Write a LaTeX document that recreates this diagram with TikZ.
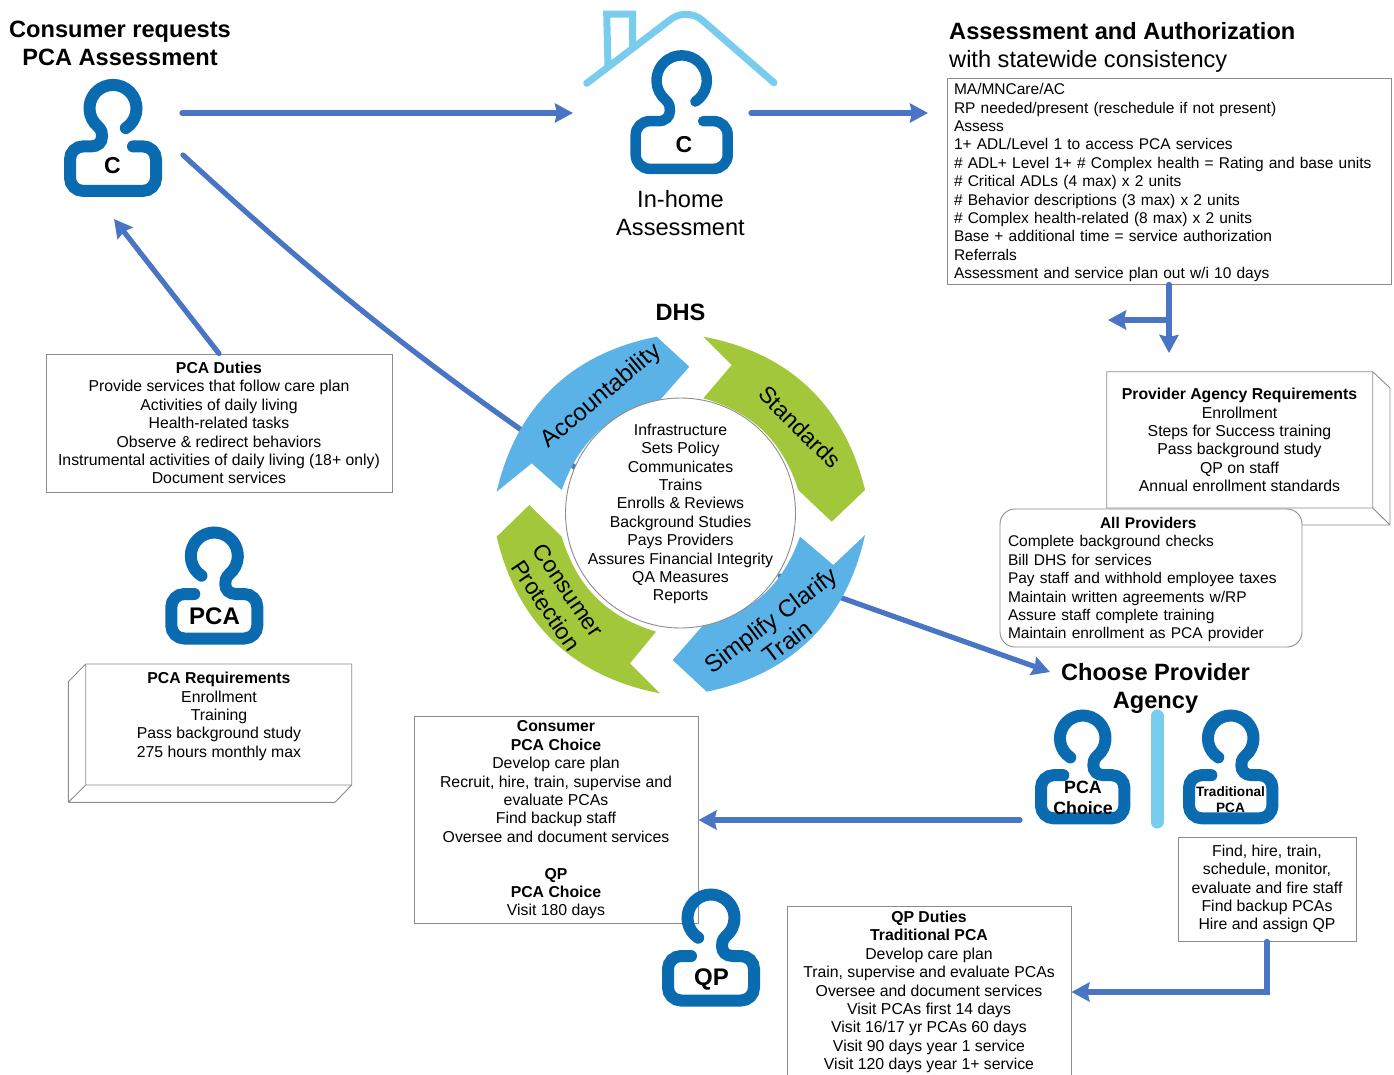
\documentclass[tikz,border=0pt]{standalone}
\usepackage{fontspec}
\setmainfont{Liberation Sans}
\usetikzlibrary{arrows.meta}
\definecolor{flowblue}{HTML}{4A74C4}
\definecolor{iconblue}{HTML}{0B6BB0}
\definecolor{roofblue}{HTML}{78CDEE}
\definecolor{ringblue}{HTML}{5AB2E6}
\definecolor{ringgreen}{HTML}{A2C73A}
\definecolor{boxgray}{HTML}{8C8C8C}
\tikzset{
  txt/.style={font=\fontsize{15.8}{18.4}\selectfont,align=center,inner sep=0,execute at begin node=\rule{0pt}{14.5pt}},
  listtxt/.style={font=\fontsize{15.5}{18.4}\selectfont,align=left},
  titletxt/.style={font=\fontsize{23.6}{28}\selectfont,align=center,inner sep=0},
  ringtxt/.style={font=\fontsize{23}{27}\selectfont,align=center,inner sep=0},
  boxed/.style={txt,draw=boxgray,line width=0.9pt,fill=white},
  wall/.style={draw=boxgray,line width=0.9pt,line join=round},
  flow/.style={draw=flowblue,line width=5.2pt,line cap=round,-{Stealth[length=18pt,width=19pt,inset=2pt]}},
  plainflow/.style={draw=flowblue,line width=5.2pt,line cap=round},
  iconline/.style={draw=iconblue,line width=12pt,line cap=round},
  roofline/.style={draw=roofblue,line width=7pt,line cap=round},
  pics/person/.style={code={
    \draw[iconline,yscale=-1] (57:23.5) arc[start angle=57,end angle=-230,radius=23.5]
      .. controls (-11,22) and (-11,25) .. (-11,28) .. controls (-11,34) and (-15,38) .. (-22,38)
      -- (-30,38) arc[start angle=-90,end angle=-180,radius=13]
      -- (-43,69.5) arc[start angle=180,end angle=90,radius=13]
      -- (30,82.5) arc[start angle=90,end angle=0,radius=13]
      -- (43,51) arc[start angle=0,end angle=-90,radius=13] -- (20,38);
  }}
}
\begin{document}
\begin{tikzpicture}[x=1pt,y=1pt,yscale=-1]
        \useasboundingbox (0,0) rectangle (1394,1074);
        % boxes
        \node[boxed,listtxt,minimum width=444pt,minimum height=206pt,text width=430pt] (assess) at (1169,181) {MA/MNCare/AC\\RP needed/present (reschedule if not present)\\Assess\\1+ ADL/Level 1 to access PCA services\\\# ADL+ Level 1+ \# Complex health = Rating and base units\\\# Critical ADLs (4 max) x 2 units\\\# Behavior descriptions (3 max) x 2 units\\\# Complex health-related (8 max) x 2 units\\Base + additional time = service authorization\\Referrals\\Assessment and service plan out w/i 10 days};
        \node[boxed,minimum width=346pt,minimum height=138pt] (duties) at (219,423) {\textbf{PCA Duties}\\Provide services that follow care plan\\Activities of daily living\\Health-related tasks\\Observe \& redirect behaviors\\Instrumental activities of daily living (18+ only)\\Document services};
        \node[boxed,minimum width=284pt,minimum height=207pt] (choice) at (556,820) {\textbf{Consumer}\\\textbf{PCA Choice}\\Develop care plan\\Recruit, hire, train, supervise and\\evaluate PCAs\\Find backup staff\\Oversee and document services\\[18.4pt]\textbf{QP}\\\textbf{PCA Choice}\\Visit 180 days};
        \node[boxed,minimum width=178pt,minimum height=104pt] (tradbox) at (1267,889) {Find, hire, train,\\schedule, monitor,\\evaluate and fire staff\\Find backup PCAs\\Hire and assign QP};
        \node[boxed,minimum width=284pt,minimum height=172pt] (qpduties) at (929,992) {\textbf{QP Duties}\\\textbf{Traditional PCA}\\Develop care plan\\Train, supervise and evaluate PCAs\\Oversee and document services\\Visit PCAs first 14 days\\Visit 16/17 yr PCAs 60 days\\Visit 90 days year 1 service\\Visit 120 days year 1+ service};
        \draw[wall] (1106.7,508) -- (1106.7,371.7) -- (1372.7,371.7) -- (1372.7,508) -- cycle (1372.7,371.7) -- (1390,388) -- (1390,525) -- (1372.7,508) (1390,525) -- (1106.7,525);
        \node[txt] (provreq) at (1239.5,440) {\textbf{Provider Agency Requirements}\\Enrollment\\Steps for Success training\\Pass background study\\QP on staff\\Annual enrollment standards};
        \node[boxed,listtxt,draw=boxgray,rounded corners=15pt,minimum width=302pt,minimum height=138pt,text width=286pt] (allprov) at (1151,578) {\hspace*{92pt}\textbf{All Providers}\\Complete background checks\\Bill DHS for services\\Pay staff and withhold employee taxes\\Maintain written agreements w/RP\\Assure staff complete training\\Maintain enrollment as PCA provider};
        \draw[wall] (85.7,664) rectangle (351.7,785) (85.7,664) -- (68.3,681.7) -- (68.3,802.3) -- (85.7,785) (68.3,802.3) -- (335,802.3) -- (351.7,785);
        \node[txt] (pcareq) at (219,716.5) {\textbf{PCA Requirements}\\Enrollment\\Training\\Pass background study\\275 hours monthly max};
        % titles
        \node[titletxt] (request) at (120,43) {\textbf{Consumer requests}\\\textbf{PCA Assessment}};
        \node[titletxt,align=left,anchor=west] (authtitle) at (949,47) {\textbf{Assessment and Authorization}\\with statewide consistency};
        \node[titletxt] (inhome) at (680.5,213) {In-home\\Assessment};
        \node[titletxt] (dhs) at (680.5,312) {\textbf{DHS}};
        \node[titletxt] (agency) at (1155.5,688) {\textbf{Choose Provider}\\\textbf{Agency}};
        % connectors
        \coordinate (reqout) at (182,113);
        \coordinate (homein) at (573,113);
        \coordinate (homeout) at (751,113);
        \coordinate (authin) at (928,113);
        \coordinate (reqdiag) at (183,155);
        \coordinate (ringa) at (576,468);
        \coordinate (ringb) at (780,576);
        \coordinate (agencyin) at (1050,672);
        \coordinate (reqback) at (114,219);
        \coordinate (branch) at (1169,320);
        \coordinate (branchl) at (1108,320);
        \coordinate (provin) at (1169,353);
        \coordinate (choiceout) at (1020,820);
        \coordinate (elbow) at (1267,992);
        \draw[flow] (reqout) -- (homein);
        \draw[flow] (homeout) -- (authin);
        \draw[plainflow] (reqdiag) to[bend left=4] (ringa);
        \draw[flow] (ringb) -- (agencyin);
        \draw[flow] (duties.north) -- (reqback);
        \draw[flow] (assess.south) -- (provin);
        \draw[flow] (branch) -- (branchl);
        \draw[flow] (choiceout) -- (choice.east);
        \draw[flow] (tradbox.south) -- (elbow) -- (qpduties.east);
        % house and people
        \draw[roofline,rounded corners=20pt] (586.7,83.3) -- (687,7) -- (774,82.7);
        \draw[roofline,line cap=butt,line join=miter] (608,68) -- (606.7,14) -- (632.7,14) -- (632.7,47);
        \draw[roofline,line width=13pt] (1157,716) -- (1157,822);
        \pic at (113,108.4) {person};
        \pic[scale=1.07,iconline/.append style={line width=10.5pt}] at (681.7,80.5) {person};
        \pic[xscale=-1] at (214.3,556) {person};
        \pic[xscale=-1] at (711,918) {person};
        \pic[xscale=-0.97,yscale=0.97] at (1082.7,738.3) {person};
        \pic[xscale=-0.97,yscale=0.97] at (1230.7,738.3) {person};
        \node[font=\fontsize{23}{23}\selectfont\bfseries,inner sep=0] (c1) at (112.5,166) {C};
        \node[font=\fontsize{23}{23}\selectfont\bfseries,inner sep=0] (c2) at (684,145) {C};
        \node[font=\fontsize{24}{24}\selectfont\bfseries,inner sep=0] (pcalab) at (214.5,616) {PCA};
        \node[font=\fontsize{24}{24}\selectfont\bfseries,inner sep=0] (qplab) at (711.5,979.5) {QP};
        \node[font=\fontsize{17.8}{21}\selectfont\bfseries,align=center,inner sep=0] (choicelab) at (1083,798) {PCA\\Choice};
        \node[font=\fontsize{13.6}{16}\selectfont\bfseries,align=center,inner sep=0] (tradlab) at (1230.5,800) {Traditional\\PCA};
        % ring
        \fill[ringblue] (496.7,491.7) -- (531.7,463.3) -- (561.7,490) to[bend right=28] (660,400) -- (689.3,366.7) -- (656.7,336.7) to[bend left=33] cycle;
        \fill[ringgreen] (703.3,336.7) -- (731.7,365) -- (703.3,398.3) to[bend right=28] (798.3,490) -- (831.7,521.7) -- (865,490) to[bend left=33] cycle;
        \fill[ringblue] (865,535) -- (833.3,565) -- (800,536.7) to[bend right=28] (703.3,625) -- (672.7,660) -- (706.7,691.7) to[bend left=33] cycle;
        \fill[ringgreen] (656,631.7) -- (630,663.3) -- (660,693.3) to[bend right=33] (496.7,536.7) -- (529.3,505) -- (561.7,536.7) to[bend left=28] cycle;
        \node[circle,draw=boxgray,fill=white,line width=0.9pt,minimum size=230pt,inner sep=0] (hub) at (680.5,513) {};
        \node[txt] (dhsroles) at (680.5,514) {Infrastructure\\Sets Policy\\Communicates\\Trains\\Enrolls \& Reviews\\Background Studies\\Pays Providers\\Assures Financial Integrity\\QA Measures\\Reports};
        \node[ringtxt,font=\fontsize{24}{27}\selectfont,rotate=40] (account) at (601.5,396.5) {Accountability};
        \node[ringtxt,rotate=-45] (standards) at (800,427) {Standards};
        \node[ringtxt,rotate=-56] (protect) at (557,598) {Consumer\\Protection};
        \node[ringtxt,font=\fontsize{24}{27}\selectfont,rotate=37] (simplify) at (779,631) {Simplify Clarify\\Train};
\end{tikzpicture}
\end{document}
